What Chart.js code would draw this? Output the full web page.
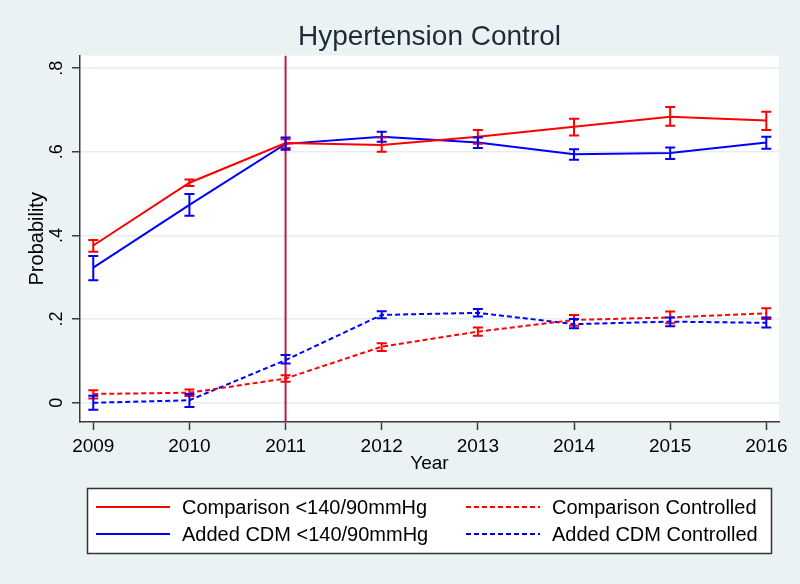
<!DOCTYPE html>
<html>
<head>
<meta charset="utf-8">
<script src="https://cdn.jsdelivr.net/npm/chart.js@4"></script>
<style>
  body { margin: 0; background: #eaf2f3; }
  canvas { display: block; }
</style>
</head>
<body>
<canvas id="chart" width="800" height="584"></canvas>
<script>
// data
const years = [2009, 2010, 2011, 2012, 2013, 2014, 2015, 2016];

const compBP   = [0.376, 0.526, 0.621, 0.616, 0.636, 0.660, 0.684, 0.675];
const compBPLo = [0.361, 0.518, 0.609, 0.600, 0.619, 0.639, 0.662, 0.652];
const compBPHi = [0.389, 0.534, 0.630, 0.634, 0.652, 0.679, 0.707, 0.696];

const cdmBP   = [0.323, 0.473, 0.619, 0.636, 0.622, 0.594, 0.597, 0.622];
const cdmBPLo = [0.293, 0.447, 0.605, 0.624, 0.609, 0.581, 0.583, 0.607];
const cdmBPHi = [0.351, 0.499, 0.634, 0.648, 0.634, 0.606, 0.610, 0.636];

const compCtrl   = [0.021, 0.024, 0.058, 0.134, 0.170, 0.198, 0.204, 0.214];
const compCtrlLo = [0.010, 0.016, 0.050, 0.124, 0.160, 0.184, 0.190, 0.200];
const compCtrlHi = [0.030, 0.032, 0.066, 0.142, 0.180, 0.210, 0.218, 0.226];

const cdmCtrl   = [0.000, 0.006, 0.102, 0.210, 0.215, 0.188, 0.194, 0.191];
const cdmCtrlLo = [-0.017, -0.010, 0.094, 0.202, 0.206, 0.178, 0.183, 0.180];
const cdmCtrlHi = [0.017, 0.021, 0.114, 0.219, 0.224, 0.200, 0.204, 0.204];

const yTicks = [0, 0.2, 0.4, 0.6, 0.8];
const yTickLabels = ['0', '.2', '.4', '.6', '.8'];
const policyYear = 2011;

const legendLabels = ['Comparison <140/90mmHg', 'Comparison Controlled',
                      'Added CDM <140/90mmHg', 'Added CDM Controlled'];

const xMin = 2008.862, xMax = 2016.132;
const yMin = -0.046, yMax = 0.830;

const RED = '#ff0000', BLUE = '#0000ff', LINE = '#c21a46', AXIS = '#3a3a3a';
const FONT = "'Liberation Sans', Arial, sans-serif";

Chart.defaults.font.family = FONT;
Chart.defaults.color = '#000';

const pts = arr => arr.map((v, i) => ({ x: years[i], y: v }));

function series(label, vals, lo, hi, color, dash) {
  return {
    label: label, data: pts(vals), errLo: lo, errHi: hi,
    borderColor: color, backgroundColor: color, borderWidth: 2,
    borderDash: dash, pointRadius: 0, tension: 0
  };
}

// white plot region
const plotBg = {
  id: 'plotBg',
  beforeDraw(chart) {
    const { ctx, chartArea: a } = chart;
    ctx.save();
    ctx.fillStyle = '#fff';
    ctx.fillRect(a.left, a.top, a.right - a.left, a.bottom - a.top);
    ctx.restore();
  }
};

// confidence interval caps
const errorBars = {
  id: 'errorBars',
  afterDatasetsDraw(chart) {
    const ctx = chart.ctx, xs = chart.scales.x, ys = chart.scales.y;
    chart.data.datasets.forEach(ds => {
      if (!ds.errLo) return;
      ctx.save();
      ctx.strokeStyle = ds.borderColor;
      ctx.lineWidth = 2;
      ctx.setLineDash([]);
      years.forEach((yr, i) => {
        const px = xs.getPixelForValue(yr);
        const y1 = ys.getPixelForValue(ds.errLo[i]);
        const y2 = ys.getPixelForValue(ds.errHi[i]);
        ctx.beginPath();
        ctx.moveTo(px, y1); ctx.lineTo(px, y2);
        ctx.moveTo(px - 5, y1); ctx.lineTo(px + 5, y1);
        ctx.moveTo(px - 5, y2); ctx.lineTo(px + 5, y2);
        ctx.stroke();
      });
      ctx.restore();
    });
  }
};

// rotated y tick labels and the legend box
const extras = {
  id: 'extras',
  afterDraw(chart) {
    const ctx = chart.ctx, ys = chart.scales.y;
    ctx.save();
    ctx.fillStyle = '#000';
    ctx.font = '18px ' + FONT;
    ctx.textAlign = 'center';
    ctx.textBaseline = 'middle';
    yTicks.forEach((v, i) => {
      ctx.save();
      ctx.translate(57, ys.getPixelForValue(v));
      ctx.rotate(-Math.PI / 2);
      ctx.fillText(yTickLabels[i], 0, 0);
      ctx.restore();
    });

    // legend
    ctx.fillStyle = '#fff';
    ctx.fillRect(87.5, 488.5, 684, 65);
    ctx.strokeStyle = '#333';
    ctx.lineWidth = 1.5;
    ctx.strokeRect(87.5, 488.5, 684, 65);
    const cols = [96, 466], rows = [507, 534];
    const colors = [RED, RED, BLUE, BLUE];
    ctx.font = '20px ' + FONT;
    ctx.textAlign = 'left';
    legendLabels.forEach((lab, i) => {
      const cx = cols[i % 2], cy = rows[Math.floor(i / 2)];
      ctx.strokeStyle = colors[i];
      ctx.lineWidth = 2;
      ctx.setLineDash(i % 2 ? [5, 3] : []);
      ctx.beginPath();
      ctx.moveTo(cx, cy); ctx.lineTo(cx + 74, cy);
      ctx.stroke();
      ctx.setLineDash([]);
      ctx.fillStyle = '#000';
      ctx.fillText(lab, cx + 86, cy + 1);
    });
    ctx.restore();
  }
};

new Chart(document.getElementById('chart'), {
  type: 'line',
  data: {
    datasets: [
      { label: 'line', data: [{ x: policyYear, y: yMin }, { x: policyYear, y: yMax }],
        borderColor: LINE, borderWidth: 2, pointRadius: 0 },
      series(legendLabels[0], compBP, compBPLo, compBPHi, RED, []),
      series(legendLabels[2], cdmBP, cdmBPLo, cdmBPHi, BLUE, []),
      series(legendLabels[1], compCtrl, compCtrlLo, compCtrlHi, RED, [5, 3]),
      series(legendLabels[3], cdmCtrl, cdmCtrlLo, cdmCtrlHi, BLUE, [5, 3])
    ]
  },
  options: {
    responsive: false,
    devicePixelRatio: 1,
    animation: false,
    layout: { padding: { top: 0, right: 21, bottom: 104, left: 0 } },
    plugins: {
      legend: { display: false },
      tooltip: { enabled: false },
      title: {
        display: true, text: 'Hypertension Control', fullSize: false,
        color: '#1d2b3a', font: { size: 28, weight: 'normal' },
        padding: { top: 20, bottom: 2 }
      }
    },
    scales: {
      x: {
        type: 'linear', min: xMin, max: xMax,
        afterBuildTicks: s => { s.ticks = years.map(v => ({ value: v })); },
        afterFit: s => { s.height = 58; },
        ticks: { callback: v => String(v), font: { size: 19 }, color: '#000', padding: 5, maxRotation: 0 },
        grid: { drawOnChartArea: false, drawTicks: true, tickLength: 8, tickColor: AXIS, tickWidth: 1.5 },
        border: { display: true, color: AXIS, width: 1.5 },
        title: { display: true, text: 'Year', font: { size: 19 }, color: '#000', padding: { top: 5, bottom: 5 } }
      },
      y: {
        type: 'linear', min: yMin, max: yMax,
        afterBuildTicks: s => { s.ticks = yTicks.map(v => ({ value: v })); },
        afterFit: s => { s.width = 80; },
        ticks: { display: false },
        grid: { color: '#e4edf0', lineWidth: 1.5, tickLength: 8, tickColor: AXIS, tickWidth: 1.5 },
        border: { display: true, color: AXIS, width: 1.5 },
        title: { display: true, text: 'Probability', font: { size: 20 }, color: '#000', padding: { top: 25, bottom: 0 } }
      }
    }
  },
  plugins: [plotBg, errorBars, extras]
});
</script>
</body>
</html>
